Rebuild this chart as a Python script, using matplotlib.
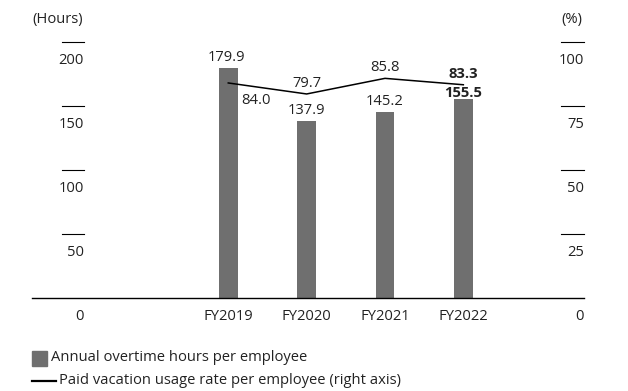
import matplotlib
matplotlib.use("Agg")
import matplotlib.pyplot as plt
from matplotlib.patches import Rectangle
from matplotlib.lines import Line2D
import matplotlib.transforms as mtransforms

plt.rcParams["font.family"] = ["Open Sans", "DejaVu Sans"]

# data
years = ["FY2019", "FY2020", "FY2021", "FY2022"]
overtime_hours = [179.9, 137.9, 145.2, 155.5]
vacation_rate = [84.0, 79.7, 85.8, 83.3]
left_ticks = [0, 50, 100, 150, 200]
right_ticks = [0, 25, 50, 75, 100]

TXT = "#222222"
BAR = "#6f6f6f"
FS = 10.6

fig = plt.figure(figsize=(6.28, 3.91), dpi=100)
W, H = 628, 391
ax = fig.add_axes([32 / W, (H - 298) / H, 552 / W, 256 / H])
ax2 = ax.twinx()

x = list(range(len(years)))
ax.bar(x, overtime_hours, width=0.24, color=BAR, zorder=2)
ax2.plot(x, vacation_rate, color="black", lw=1.1, zorder=3)

ax.set_xlim(-2.505, 4.54)
ax.set_ylim(0, 200)
ax2.set_ylim(0, 100)

for a in (ax, ax2):
    for s in a.spines.values():
        s.set_visible(False)
    a.set_xticks([])
    a.set_yticks([])
ax.spines["bottom"].set_visible(True)
ax.spines["bottom"].set_linewidth(1.0)
ax.spines["bottom"].set_color("black")

# custom axis ticks: short dash with the label underneath
lt = mtransforms.blended_transform_factory(ax.transAxes, ax.transData)
rt = mtransforms.blended_transform_factory(ax2.transAxes, ax2.transData)
below = mtransforms.offset_copy(lt, fig=fig, x=0, y=-18.5, units="dots")
below_r = mtransforms.offset_copy(rt, fig=fig, x=0, y=-18.5, units="dots")
for v in left_ticks:
    if v > 0:
        ax.plot([0.0535, 0.094], [v, v], color="black", lw=0.8,
                transform=lt, clip_on=False)
    ax.text(0.094, v, str(v), transform=below, ha="right", va="center",
            fontsize=FS, color=TXT)
for v in right_ticks:
    if v > 0:
        ax2.plot([0.9585, 1.0], [v, v], color="black", lw=0.8,
                 transform=rt, clip_on=False)
    ax2.text(1.0, v, str(v), transform=below_r, ha="right", va="center",
             fontsize=FS, color=TXT)

# category labels
xlab = mtransforms.offset_copy(ax.transData, fig=fig, x=0, y=-18.5, units="dots")
for i, yr in enumerate(years):
    ax.text(i, 0, yr, transform=xlab, ha="center", va="center",
            fontsize=FS, color=TXT)

# value labels
bar_off = [(-1.5, 10.4), (0, 10.7), (0, 11), (0, 5.7)]
line_off = [(27.7, -17.7), (0, 10.7), (0, 11), (0, 11)]
last = len(years) - 1
for i, v in enumerate(overtime_hours):
    ax.annotate(f"{v:.1f}", (i, v), xytext=bar_off[i], textcoords="offset pixels",
                ha="center", va="center", fontsize=FS, color=TXT,
                fontweight="bold" if i == last else "normal", zorder=5)
for i, v in enumerate(vacation_rate):
    ax2.annotate(f"{v:.1f}", (i, v), xytext=line_off[i], textcoords="offset pixels",
                 ha="center", va="center", fontsize=FS, color=TXT,
                 fontweight="bold" if i == last else "normal", zorder=5)

# unit labels
fig.text(32.5 / W, 1 - 19 / H, "(Hours)", ha="left", va="center",
         fontsize=FS, color=TXT)
fig.text(582 / W, 1 - 19 / H, "(%)", ha="right", va="center",
         fontsize=FS, color=TXT)

# legend
fig.patches.append(Rectangle((32 / W, 1 - 366 / H), 15 / W, 15 / H,
                             transform=fig.transFigure, color=BAR))
fig.text(51 / W, 1 - 357.5 / H, "Annual overtime hours per employee",
         ha="left", va="center", fontsize=FS, color=TXT)
fig.lines.append(Line2D([32 / W, 56 / W], [1 - 381 / H, 1 - 381 / H],
                        transform=fig.transFigure, color="black", lw=1.6))
fig.text(59 / W, 1 - 381 / H, "Paid vacation usage rate per employee (right axis)",
         ha="left", va="center", fontsize=FS, color=TXT)

fig.savefig("out.png", dpi=100)
